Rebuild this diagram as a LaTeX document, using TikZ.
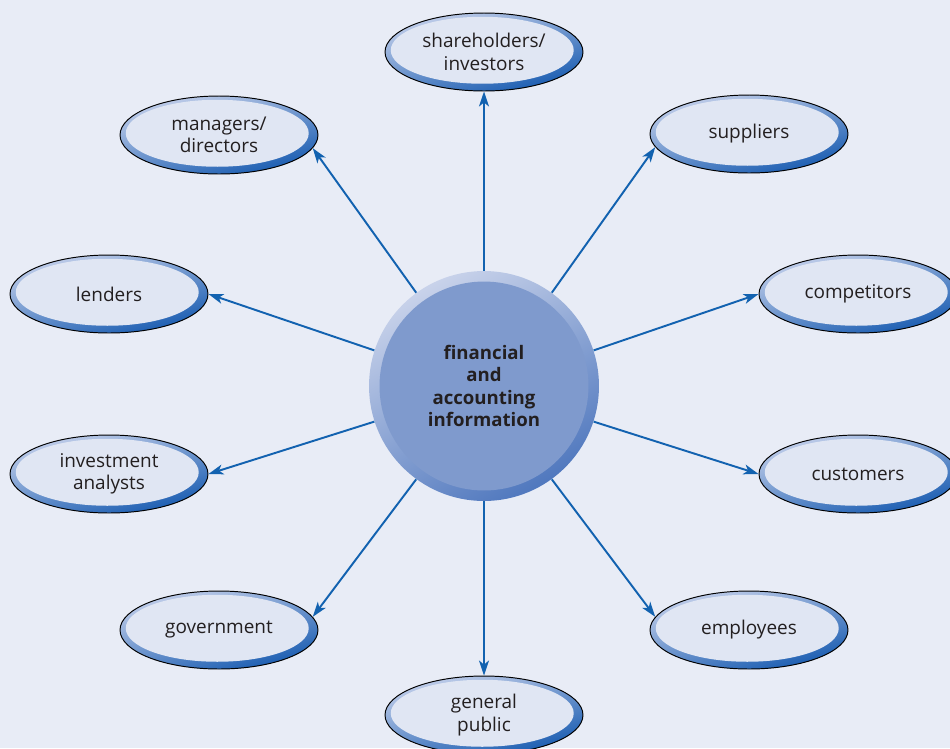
\documentclass[tikz,border=0pt]{standalone}
\usepackage{fontspec}
\setmainfont{Open Sans}
\usetikzlibrary{shapes.geometric,arrows.meta}
\definecolor{bgcol}{RGB}{232,236,246}
\definecolor{ovalin}{RGB}{224,230,243}
\definecolor{ringlight}{RGB}{196,208,235}
\definecolor{ringdark}{RGB}{22,90,176}
\definecolor{hubin}{RGB}{127,154,205}
\definecolor{hublight}{RGB}{200,210,234}
\definecolor{hubdark}{RGB}{80,120,190}
\definecolor{linkcol}{RGB}{18,98,176}
\definecolor{txt}{RGB}{35,31,32}
\begin{document}
\begin{tikzpicture}[x=0.02cm, y=-0.02cm,
	group/.style={ellipse, draw=black, line width=0.55pt, inner sep=0pt, minimum width=3.96cm, minimum height=1.56cm, align=center, text=txt, font=\fontsize{10.8}{12.8}\selectfont, top color=ringlight, bottom color=ringdark, shading angle=15, path picture={\fill[ovalin] ([xshift=-0.035cm,yshift=0.035cm]path picture bounding box.center) ellipse [x radius=1.83cm, y radius=0.67cm];}},
	hub/.style={circle, inner sep=0pt, minimum size=4.6cm, align=center, text=txt, font=\bfseries\fontsize{10.6}{12.6}\selectfont, top color=hublight, bottom color=hubdark, shading angle=30, path picture={\fill[hubin] (path picture bounding box.center) circle [radius=2.09cm];}},
	link/.style={draw=linkcol, line width=1.1pt, -{Stealth[length=3mm,width=2mm,inset=0.8mm]}}]
		\fill[bgcol] (0,0) rectangle (950,748);
		\useasboundingbox (0,0) rectangle (950,748);
		\clip (0,0) rectangle (950,748);
		
		\node [hub] (info) at (484,386) {financial\\and\\accounting\\information};
		
		\node [group] (share) at (484,52) {shareholders/\\investors};
		\node [group] (mgr) at (219,135) {managers/\\directors};
		\node [group] (supp) at (749,134) {suppliers};
		\node [group] (lend) at (109,294) {lenders};
		\node [group] (comp) at (858,294) {competitors};
		\node [group] (inv) at (109,474) {investment\\analysts};
		\node [group] (cust) at (858,474) {customers};
		\node [group] (gov) at (219,630) {government};
		\node [group] (empl) at (749,630) {employees};
		\node [group] (pub) at (484,715) {general\\public};
		
		\foreach \a/\n/\e in {90/share/south, 126/mgr/352, 54/supp/188, 162/lend/east, 18/comp/west, 198/inv/east, 342/cust/west, 234/gov/8, 306/empl/172, 270/pub/north}
			\draw[link] (info.\a) -- (\n.\e);
	\end{tikzpicture}
\end{document}
